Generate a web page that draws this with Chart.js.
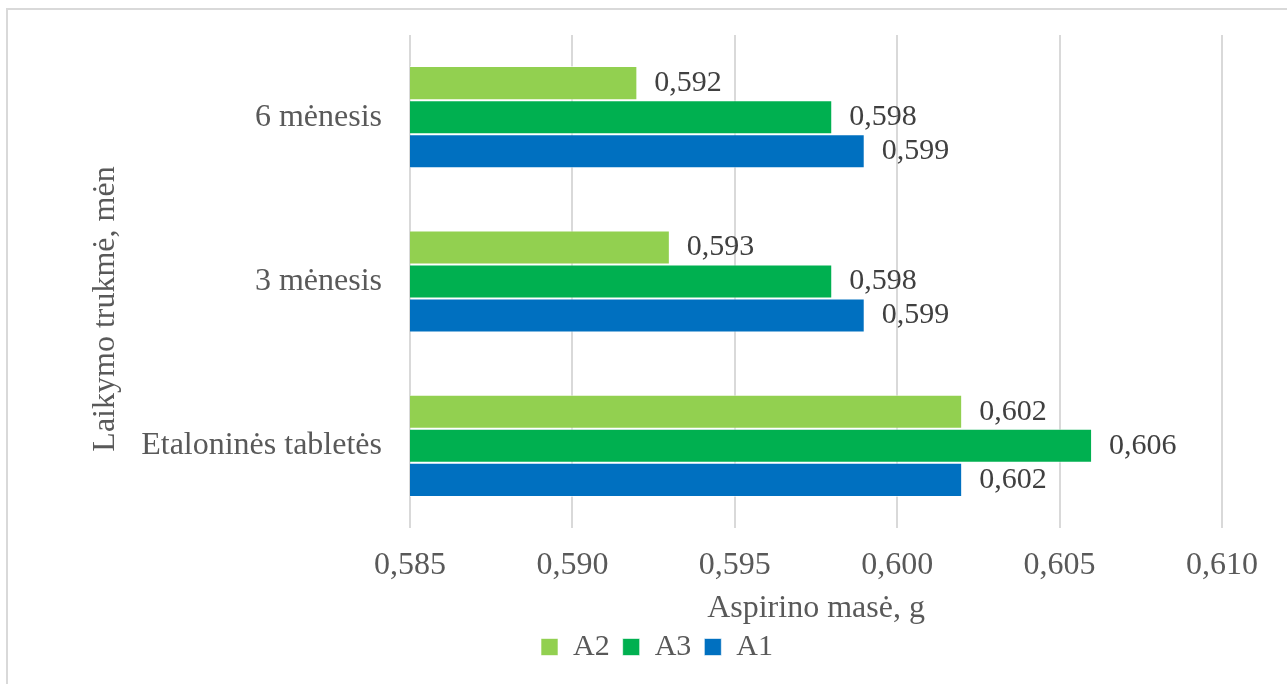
<!DOCTYPE html>
<html lang="lt">
<head>
<meta charset="utf-8">
<title>Aspirino masė</title>
<script src="https://cdn.jsdelivr.net/npm/chart.js@4/dist/chart.umd.min.js"></script>
<style>
  html, body { margin: 0; padding: 0; background: #ffffff; }
  #wrap { position: relative; width: 1287px; height: 684px; }
</style>
</head>
<body>
<div id="wrap"><canvas id="chart" width="1287" height="684"></canvas></div>
<script>
// Storage periods (top to bottom) and aspirin mass per tablet series
const categories = ['6 mėnesis', '3 mėnesis', 'Etaloninės tabletės'];
const seriesNames = ['A2', 'A3', 'A1'];
const valuesA2 = [0.592, 0.593, 0.602];
const valuesA3 = [0.598, 0.598, 0.606];
const valuesA1 = [0.599, 0.599, 0.602];
const seriesColors = ['#92d050', '#00b050', '#0070c0'];
const tickValues = [0.585, 0.590, 0.595, 0.600, 0.605, 0.610];

const xTitle = 'Aspirino masė, g';
const yTitle = 'Laikymo trukmė, mėn';

const SERIF = '"Liberation Serif", "Times New Roman", serif';
const fmt = v => v.toFixed(3).replace('.', ',');

// Outer frame of the chart area (top and left edges fall inside the canvas)
const framePlugin = {
  id: 'frame',
  beforeDraw(chart) {
    const ctx = chart.ctx;
    ctx.save();
    ctx.strokeStyle = '#d9d9d9';
    ctx.lineWidth = 2;
    ctx.strokeRect(7, 9, chart.width + 20, chart.height + 20);
    ctx.restore();
  }
};

// Rotated title for the category axis
const yTitlePlugin = {
  id: 'yTitle',
  afterDraw(chart) {
    const ctx = chart.ctx;
    ctx.save();
    ctx.translate(106, 309);
    ctx.rotate(-Math.PI / 2);
    ctx.font = '32px ' + SERIF;
    ctx.fillStyle = '#595959';
    ctx.textAlign = 'center';
    ctx.textBaseline = 'middle';
    ctx.fillText(yTitle, 0, 0);
    ctx.restore();
  }
};

// Value labels at the end of each bar
const valueLabels = {
  id: 'valueLabels',
  afterDatasetsDraw(chart) {
    const ctx = chart.ctx;
    ctx.save();
    ctx.font = '30px ' + SERIF;
    ctx.fillStyle = '#404040';
    ctx.textAlign = 'left';
    ctx.textBaseline = 'middle';
    chart.data.datasets.forEach((ds, di) => {
      const meta = chart.getDatasetMeta(di);
      meta.data.forEach((bar, i) => {
        ctx.fillText(fmt(ds.data[i]), bar.x + 17, bar.y);
      });
    });
    ctx.restore();
  }
};

const seriesData = [valuesA2, valuesA3, valuesA1];

new Chart(document.getElementById('chart'), {
  type: 'bar',
  data: {
    labels: categories,
    datasets: seriesNames.map((name, k) => ({
      label: name,
      data: seriesData[k],
      backgroundColor: seriesColors[k],
      borderColor: 'rgba(255,255,255,0.6)',
      borderWidth: 1,
      barPercentage: 1,
      categoryPercentage: 0.622
    }))
  },
  options: {
    indexAxis: 'y',
    responsive: false,
    animation: false,
    devicePixelRatio: 1,
    layout: { padding: { left: 92, right: 65, top: 35, bottom: 12 } },
    scales: {
      x: {
        min: 0.585,
        max: 0.610,
        afterBuildTicks(scale) {
          scale.ticks = tickValues.map(v => ({ value: v }));
        },
        afterFit(scale) { scale.height = 91; },
        ticks: {
          padding: 18,
          color: '#595959',
          font: { family: SERIF, size: 32 },
          callback: v => fmt(v)
        },
        grid: { color: '#d9d9d9', lineWidth: 2, drawTicks: false },
        border: { display: false },
        title: {
          display: true,
          text: xTitle,
          color: '#595959',
          font: { family: SERIF, size: 32 },
          padding: { top: 0, bottom: -9 }
        }
      },
      y: {
        afterFit(scale) {
          scale.width = 318;
          scale.paddingTop = 0;
          scale.paddingBottom = 0;
        },
        ticks: {
          padding: 28,
          color: '#595959',
          font: { family: SERIF, size: 32 }
        },
        grid: { display: false, drawTicks: false },
        border: { display: false }
      }
    },
    plugins: {
      legend: {
        position: 'bottom',
        labels: {
          color: '#595959',
          font: { family: SERIF, size: 30 },
          boxWidth: 17,
          boxHeight: 17,
          padding: 13
        }
      },
      tooltip: { enabled: false }
    }
  },
  plugins: [framePlugin, valueLabels, yTitlePlugin]
});
</script>
</body>
</html>
